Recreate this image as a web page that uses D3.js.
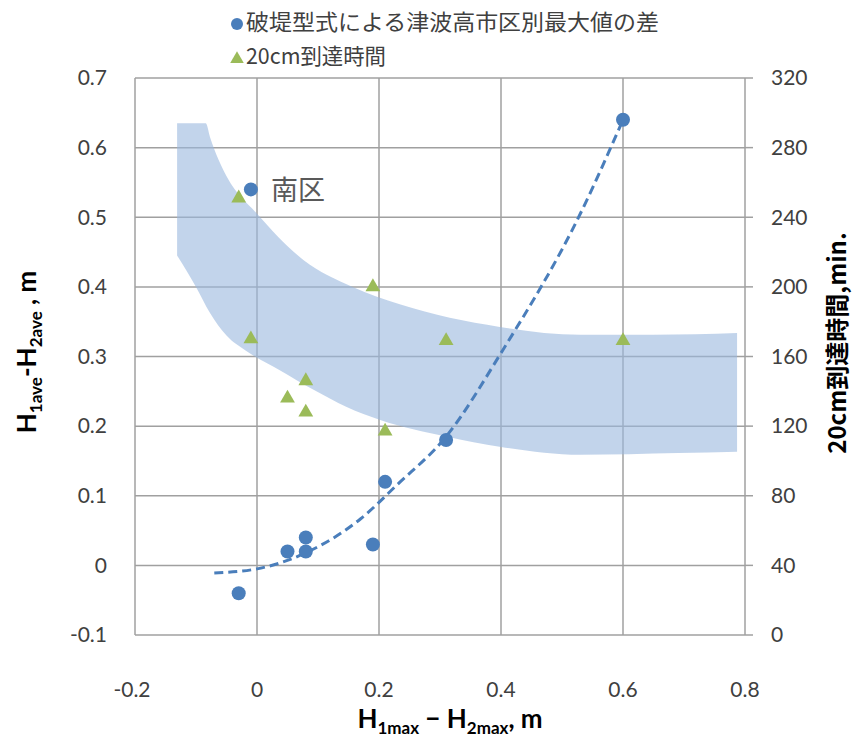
<!DOCTYPE html>
<html>
<head>
<meta charset="utf-8">
<script src="https://cdn.jsdelivr.net/npm/d3@7"></script>
<style>
  html, body { margin: 0; padding: 0; background: #fff; }
  svg { display: block; }
</style>
</head>
<body>
<svg id="chart" width="866" height="742"></svg>
<script>
// ---- data ----
const xTicks = [-0.2, 0, 0.2, 0.4, 0.6, 0.8];
const yTicks = [-0.1, 0, 0.1, 0.2, 0.3, 0.4, 0.5, 0.6, 0.7];
const y2Ticks = [0, 40, 80, 120, 160, 200, 240, 280, 320];

// 破堤型式による津波高市区別最大値の差 (left axis, m)
const diffX = [-0.03, -0.01, 0.05, 0.08, 0.08, 0.19, 0.21, 0.31, 0.60];
const diffY = [-0.04, 0.54, 0.02, 0.04, 0.02, 0.03, 0.12, 0.18, 0.64];

// 20cm到達時間 (right axis, min.)
const timeX = [-0.03, -0.01, 0.05, 0.08, 0.08, 0.19, 0.21, 0.31, 0.60];
const timeY = [251, 170, 136, 146, 128, 200, 117, 169, 169];

// dashed trend line (left axis)
const trendX = [-0.07, 0, 0.08, 0.17, 0.23, 0.31, 0.40, 0.53, 0.60];
const trendY = [-0.011, -0.005, 0.018, 0.067, 0.116, 0.185, 0.305, 0.505, 0.64];

// shaded band (right axis, min.)
const bandUpperX = [-0.131, -0.084, -0.077, -0.063, -0.049, 0.0, 0.076, 0.157, 0.234, 0.398, 0.53, 0.65, 0.787];
const bandUpperY = [294, 294, 286, 273, 263, 242, 215.5, 200, 190, 177, 172.5, 172.5, 173.5];
const bandLowerX = [-0.131, -0.1, -0.077, -0.05, -0.017, 0.038, 0.092, 0.147, 0.202, 0.31, 0.40, 0.53, 0.69, 0.787];
const bandLowerY = [218, 200, 185, 172, 163, 152, 141, 131, 123.5, 114, 108, 103.5, 104.5, 105.3];

const legendLabels = ["破堤型式による津波高市区別最大値の差", "20cm到達時間"];
const annotation = "南区";

// ---- layout ----
const svg = d3.select("#chart");
const L = 135, R = 745, T = 78, B = 635;
const x = d3.scaleLinear().domain([-0.2, 0.8]).range([L, R]);
const y = d3.scaleLinear().domain([-0.1, 0.7]).range([B, T]);
const y2 = d3.scaleLinear().domain([0, 320]).range([B, T]);

const gridColor = "#a0a0a0";
const tickFont = "Lato, 'Open Sans', sans-serif";
const blue = "#4a7ebb";
const green = "#9bbb59";
const fmt = d => String(+d.toFixed(1));

// gridlines
const grid = svg.append("g");
grid.selectAll("line.h").data(yTicks).join("line")
  .attr("x1", L).attr("x2", R)
  .attr("y1", d => y(d)).attr("y2", d => y(d))
  .attr("stroke", gridColor).attr("stroke-width", 1.5);
grid.selectAll("line.v").data(xTicks).join("line")
  .attr("y1", T).attr("y2", B)
  .attr("x1", d => x(d)).attr("x2", d => x(d))
  .attr("stroke", gridColor).attr("stroke-width", 1.5);

// band
const upper = bandUpperX.map((v, i) => [v, bandUpperY[i]]);
const lower = bandLowerX.map((v, i) => [v, bandLowerY[i]]);
const bl = d3.line().x(d => x(d[0])).y(d => y2(d[1])).curve(d3.curveMonotoneX);
svg.append("path")
  .attr("d", bl(upper) + "L" + bl(lower.slice().reverse()).slice(1) + "Z")
  .attr("fill", "#9ab8de").attr("fill-opacity", 0.6);

// right axis ticks
svg.append("g").selectAll("line").data(y2Ticks).join("line")
  .attr("x1", R).attr("x2", R + 8)
  .attr("y1", d => y2(d)).attr("y2", d => y2(d))
  .attr("stroke", gridColor).attr("stroke-width", 1.5);

// tick labels
svg.append("g").selectAll("text").data(yTicks).join("text")
  .attr("x", 107).attr("y", d => y(d)).attr("dy", "0.35em")
  .attr("text-anchor", "end")
  .attr("font-family", tickFont).attr("font-size", 21).attr("fill", "#404040")
  .text(fmt);
svg.append("g").selectAll("text").data(y2Ticks).join("text")
  .attr("x", 771).attr("y", d => y2(d)).attr("dy", "0.35em")
  .attr("text-anchor", "start")
  .attr("font-family", tickFont).attr("font-size", 21).attr("fill", "#404040")
  .text(d => d);
svg.append("g").selectAll("text").data(xTicks).join("text")
  .attr("x", d => x(d) - (d < 0 ? 3 : 0)).attr("y", 690).attr("dy", "0.35em")
  .attr("text-anchor", "middle")
  .attr("font-family", tickFont).attr("font-size", 21).attr("fill", "#404040")
  .text(fmt);

// trend line
svg.append("path")
  .attr("d", d3.line().x((d, i) => x(trendX[i])).y((d, i) => y(trendY[i])).curve(d3.curveMonotoneX)(trendX))
  .attr("fill", "none").attr("stroke", blue).attr("stroke-width", 3)
  .attr("stroke-dasharray", "9,5");

// triangles
const tri = d3.symbol().type(d3.symbolTriangle).size(95);
svg.append("g").selectAll("path").data(timeX).join("path")
  .attr("d", tri)
  .attr("transform", (d, i) => `translate(${x(d)},${y2(timeY[i])})`)
  .attr("fill", green);

// circles
svg.append("g").selectAll("circle").data(diffX).join("circle")
  .attr("cx", d => x(d)).attr("cy", (d, i) => y(diffY[i]))
  .attr("r", 7).attr("fill", blue);

// annotation
svg.append("text").attr("x", 271).attr("y", 200)
  .attr("font-family", "'Noto Sans CJK JP', sans-serif").attr("font-size", 27)
  .attr("fill", "#595959").text(annotation);

// legend
const lg = svg.append("g").attr("font-family", "'Noto Sans CJK JP', sans-serif").attr("font-size", 22).attr("fill", "#404040");
lg.append("circle").attr("cx", 237).attr("cy", 24).attr("r", 6).attr("fill", blue);
lg.append("text").attr("x", 246).attr("y", 22).attr("dy", "0.35em").attr("textLength", 413).attr("lengthAdjust", "spacingAndGlyphs").text(legendLabels[0]);
lg.append("path").attr("d", d3.symbol().type(d3.symbolTriangle).size(80)).attr("transform", "translate(237,59)").attr("fill", green);
lg.append("text").attr("x", 246).attr("y", 56).attr("dy", "0.35em").attr("textLength", 140).attr("lengthAdjust", "spacingAndGlyphs").text(legendLabels[1]);

// axis titles
const titleFont = "Lato, 'Noto Sans CJK JP', sans-serif";
const lt = svg.append("text")
  .attr("transform", "translate(36,352) rotate(-90)")
  .attr("text-anchor", "middle")
  .attr("font-family", titleFont).attr("font-weight", "bold").attr("font-size", 26).attr("fill", "#000");
lt.append("tspan").text("H");
lt.append("tspan").attr("font-size", 17).attr("dy", 6).text("1ave");
lt.append("tspan").attr("dy", -6).text("-H");
lt.append("tspan").attr("font-size", 17).attr("dy", 6).text("2ave");
lt.append("tspan").attr("dy", -6).text(" , m");

const bt = svg.append("text")
  .attr("x", 450).attr("y", 728)
  .attr("text-anchor", "middle")
  .attr("font-family", titleFont).attr("font-weight", "bold").attr("font-size", 26).attr("fill", "#000");
bt.append("tspan").text("H");
bt.append("tspan").attr("font-size", 17).attr("dy", 6).text("1max");
bt.append("tspan").attr("dy", -6).text(" − H");
bt.append("tspan").attr("font-size", 17).attr("dy", 6).text("2max");
bt.append("tspan").attr("dy", -6).text(", m");

svg.append("text")
  .attr("transform", "translate(846,343) rotate(-90)")
  .attr("text-anchor", "middle")
  .attr("font-family", "'Noto Sans CJK JP', sans-serif").attr("font-weight", "bold").attr("font-size", 24).attr("fill", "#000")
  .text("20cm到達時間,min.");
</script>
</body>
</html>
